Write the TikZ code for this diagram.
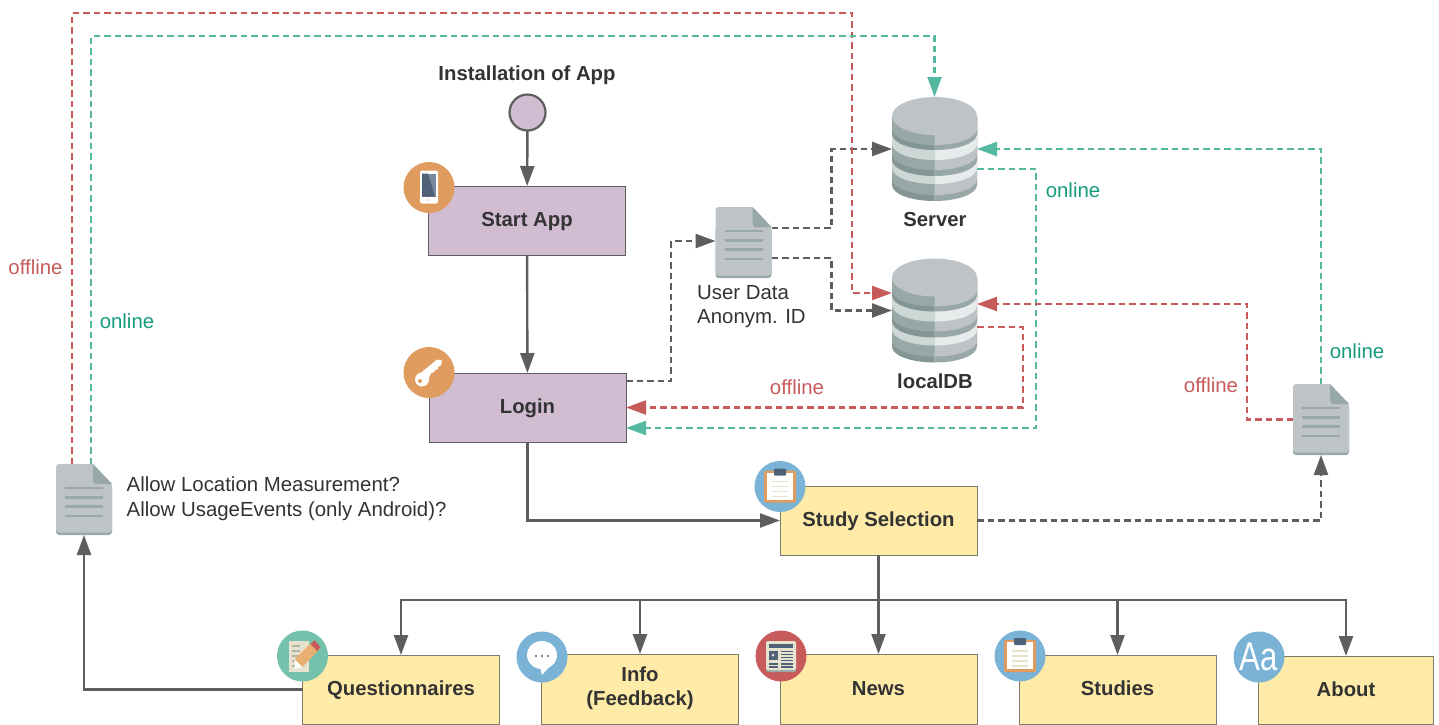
\documentclass[tikz,border=0pt]{standalone}
\usepackage{fontspec}
\setmainfont{Liberation Sans}
\usetikzlibrary{arrows.meta}
\definecolor{line-gray}{HTML}{5E5E5E}
\definecolor{text-gray}{HTML}{333333}
\definecolor{off-red}{HTML}{C75B5B}
\definecolor{on-teal}{HTML}{55B8A0}
\definecolor{on-text}{HTML}{159B7C}
\definecolor{box-purple}{HTML}{D1BCD2}
\definecolor{box-yellow}{HTML}{FFEBA8}
\definecolor{db-light}{HTML}{BDC3C7}
\definecolor{db-mid}{HTML}{98A8A6}
\definecolor{db-dark}{HTML}{849694}
\definecolor{db-white}{HTML}{E6EBEB}
\definecolor{db-pale}{HTML}{CDD7D6}
\definecolor{badge-orange}{HTML}{E09B5E}
\definecolor{badge-blue}{HTML}{7AB3D6}
\definecolor{badge-teal}{HTML}{74C2AB}
\definecolor{icon-slate}{HTML}{4F6079}
\definecolor{icon-paper}{HTML}{E6E2CE}
\tikzset{
    x=1pt, y=-1pt,
    flow-box/.style = {draw=line-gray, thick, rectangle, inner sep=0pt, outer sep=0pt, minimum width=197pt, minimum height=69pt, align=center, text=text-gray, text height=12pt, text depth=0pt, font=\fontsize{20.3}{24.5}\selectfont\bfseries},
    purple-box/.style = {flow-box, fill=box-purple},
    yellow-box/.style = {flow-box, fill=box-yellow, draw=line-gray!80!box-yellow},
    start-dot/.style = {draw=line-gray, fill=box-purple, line width=2.2pt, circle, inner sep=0pt, outer sep=0pt, minimum size=36pt},
    db-box/.style = {rectangle, inner sep=0pt, outer sep=0pt, minimum width=85pt, minimum height=104pt},
    doc-box/.style = {rectangle, inner sep=0pt, outer sep=0pt, minimum width=56pt, minimum height=71pt},
    badge/.style = {circle, inner sep=0pt, outer sep=0pt, minimum size=51pt},
    caption/.style = {inner sep=0pt, text=text-gray, font=\fontsize{20.4}{24.7}\selectfont, align=left},
    caption-bold/.style = {caption, font=\fontsize{20.3}{24.5}\selectfont\bfseries},
    off-label/.style = {caption, text=off-red},
    on-label/.style = {caption, text=on-text},
    solid-arrow/.style = {draw=line-gray, line width=2.4pt, -{Triangle[length=20pt,width=14pt]}},
    dash-arrow/.style = {line width=2.4pt, dash pattern=on 6.5pt off 4pt, -{Triangle[length=20pt,width=14pt,color=#1]}, draw=#1},
    doc-icon/.pic = {
        \begin{scope}[shift={(-28,-35.5)}]
        \fill[db-mid, rounded corners=3pt] (0,20) -- (0,71) -- (56,71) -- (56,20) -- cycle;
        \fill[db-light, rounded corners=3pt] (0,0) -- (0,68.5) -- (56,68.5) -- (56,20) [sharp corners] -- (37,0) [rounded corners=3pt] -- cycle;
        \fill[db-mid] (37,0) -- (56,20) -- (39,20) -- (37,17) -- cycle;
        \foreach \liney in {24,33.3,42.7,52}
            \draw[db-mid, line width=2.8pt] (9,\liney) -- (47,\liney);
        \end{scope}
    },
    db-icon/.pic = {
        \begin{scope}[shift={(0,-52)}]
        \foreach \edge/\leftfill/\rightfill in {88/db-dark/db-mid, 82/db-mid/db-light, 71/db-pale/db-white, 63/db-dark/db-mid, 57/db-mid/db-light, 47/db-pale/db-white, 37/db-dark/db-mid, 32/db-mid/db-light} {
            \fill[\leftfill] (-42.5,20) -- (-42.5,\edge) .. controls (-42.5,\edge+9) and (-23.5,\edge+16) .. (0,\edge+16) -- (0,20) -- cycle;
            \fill[\rightfill] (42.5,20) -- (42.5,\edge) .. controls (42.5,\edge+9) and (23.5,\edge+16) .. (0,\edge+16) -- (0,20) -- cycle;
        }
        \fill[db-light] (0,19) ellipse (42.5pt and 19pt);
        \end{scope}
    },
    phone-icon/.pic = {
        \fill[white, rounded corners=2pt] (-9,-17) rectangle (9,16);
        \fill[icon-slate!75!white] (-7,-14) rectangle (7,9);
        \fill[icon-slate] (-7,-14) -- (-1,-14) -- (6,9) -- (-7,9) -- cycle;
        \fill[icon-paper] (0,12.5) circle (1.3pt);
    },
    key-icon/.pic = {
        \fill[white] (-7,7) circle (7pt);
        \fill[white] (-9,1) -- (8,-13) -- (13,-12) -- (12,-7) -- (9.5,-6) -- (8.5,-3) -- (6,-2.5) -- (5,0) -- (2.5,0) -- (-1,7) -- cycle;
        \fill[badge-orange] (-9,8.5) circle (2pt);
    },
    clipboard-icon/.pic = {
        \fill[badge-orange, rounded corners=2pt] (-16,-16) rectangle (16,16);
        \fill[white] (-13,-14) rectangle (13,13);
        \foreach \liney in {-5,0,5,10}
            \draw[icon-paper, line width=1.6pt] (-8,\liney) -- (8,\liney);
        \fill[icon-slate, rounded corners=1pt] (-6,-18) rectangle (6,-11);
    },
    pencil-icon/.pic = {
        \fill[icon-paper] (-14,-15) rectangle (6,16);
        \foreach \liney in {-10,-5,0,5,10}
            \draw[line-gray!35!icon-paper, line width=1.2pt] (-11,\liney) -- (-3,\liney);
        \fill[badge-orange!75!box-yellow] (-8,3) -- (11,-15) -- (18,-8) -- (0,11) -- cycle;
        \fill[off-red] (8,-12) -- (12,-16) -- (18,-9) -- (15,-5) -- cycle;
        \fill[white] (-8,3) -- (0,11) -- (-8,13) -- cycle;
    },
    speech-icon/.pic = {
        \fill[white] (0,-2) ellipse (15pt and 14pt);
        \fill[white] (-2,10) -- (0,18) -- (9,8) -- cycle;
        \foreach \dotx in {-6,0,6}
            \fill[icon-slate] (\dotx,-1) circle (1.2pt);
    },
    news-icon/.pic = {
        \fill[db-mid, rounded corners=2pt] (-15,-15) rectangle (15,16);
        \fill[icon-paper, rounded corners=2pt] (-15,-15) rectangle (15,14);
        \fill[icon-slate] (-12,-12.5) rectangle (12,-8.5);
        \fill[icon-slate] (-12,-5) rectangle (-3,4);
        \fill[icon-paper] (-8,-1) circle (1.5pt);
        \foreach \liney in {-4.5,-1.5,1.5,4.5}
            \draw[icon-slate, line width=1.4pt] (0,\liney) -- (12,\liney);
        \foreach \liney in {8,11}
            \draw[icon-slate, line width=1.4pt] (-12,\liney) -- (-3,\liney) (0,\liney) -- (12,\liney);
    },
}
\begin{document}
\begin{tikzpicture}
\useasboundingbox (0,0) rectangle (1439,724);
% boxes
\node [start-dot] (install) at (527.5,112.5) {};
\node [caption-bold] (installtitle) at (527,75) {Installation of App};
\node [purple-box] (startapp) at (527,220.5) {Start App};
\node [purple-box] (login) at (527.5,407.5) {Login};
\node [yellow-box] (study) at (878.5,520.5) {Study Selection};
\node [yellow-box] (questionnaires) at (401,689.5) {Questionnaires};
\node [yellow-box, minimum height=70pt, text height=33.5pt] (info) at (640,689) {Info\\(Feedback)};
\node [yellow-box, minimum height=70pt] (news) at (878.5,689) {News};
\node [yellow-box] (studies) at (1117.5,689.5) {Studies};
\node [yellow-box, minimum width=175pt, minimum height=68pt] (about) at (1346,690) {About};
% databases and documents
\node [db-box] (server) at (934.5,149) {};
\pic at (server) {db-icon};
\node [caption-bold] (servertitle) at (935,219.5) {Server};
\node [db-box] (localdb) at (934.5,310.5) {};
\pic at (localdb) {db-icon};
\node [caption-bold] (localdbtitle) at (935,381) {localDB};
\node [doc-box] (userdoc) at (743.5,242.5) {};
\pic at (userdoc) {doc-icon};
\node [caption, anchor=north west] (userdoctext) at (697,285) {User Data\\Anonym. ID};
\node [doc-box] (leftdoc) at (84,499.5) {};
\pic at (leftdoc) {doc-icon};
\node [caption, anchor=west] (leftdoctext) at (126.5,499) {Allow Location Measurement?\\Allow UsageEvents (only Android)?};
\node [doc-box] (rightdoc) at (1321,419.5) {};
\pic at (rightdoc) {doc-icon};
% solid connectors
\draw [solid-arrow] (install) -- (startapp);
\draw [solid-arrow] (startapp) -- (login);
\draw [solid-arrow] (login.south) |- (study.west);
\draw [solid-arrow] (questionnaires.west) -| (leftdoc.south);
\coordinate (busjoint) at (878.5,600);
\draw [line-gray, line width=2.4pt] (study.south) -- (busjoint);
\foreach \target in {questionnaires,info,news,studies,about}
    \draw [solid-arrow] (busjoint) -| (\target.north);
% dashed connectors
\draw [dash-arrow=line-gray] ([yshift=26.5pt]login.east) -- ++(45,0) |- ([yshift=1.5pt]userdoc.west);
\draw [dash-arrow=line-gray] ([yshift=14.5pt]userdoc.east) -- ++(60,0) |- (server.west);
\draw [dash-arrow=line-gray] ([yshift=-15.5pt]userdoc.east) -- ++(60,0) |- (localdb.west);
\draw [dash-arrow=line-gray] (study.east) -| (rightdoc.south);
\draw [dash-arrow=off-red] ([xshift=-12pt]leftdoc.north) -- ++(0,-451) -- ++(780,0) |- ([yshift=17.5pt]localdb.west);
\draw [dash-arrow=on-teal] ([xshift=7pt]leftdoc.north) -- ++(0,-428) -| (server.north);
\draw [dash-arrow=on-teal] ([yshift=-20pt]server.east) -- ++(59,0) |- ([yshift=-20.5pt]login.east);
\draw [dash-arrow=off-red] ([yshift=-16.5pt]localdb.east) -- ++(46,0) |- (login.east);
\draw [dash-arrow=on-teal] (rightdoc.north) |- (server.east);
\draw [dash-arrow=off-red] (rightdoc.west) -- ++(-46,0) |- ([yshift=6.5pt]localdb.east);
% badges
\node [badge, fill=badge-orange] (startbadge) at (429,187.5) {};
\pic at (startbadge) {phone-icon};
\node [badge, fill=badge-orange] (loginbadge) at (429,372.5) {};
\pic at (loginbadge) {key-icon};
\node [badge, fill=badge-blue] (studybadge) at (780,486.5) {};
\pic at (studybadge) {clipboard-icon};
\node [badge, fill=badge-teal] (questionnairesbadge) at (302.5,656) {};
\pic at (questionnairesbadge) {pencil-icon};
\node [badge, fill=badge-blue] (infobadge) at (542,657) {};
\pic at (infobadge) {speech-icon};
\node [badge, fill=off-red] (newsbadge) at (781,656) {};
\pic at (newsbadge) {news-icon};
\node [badge, fill=badge-blue] (studiesbadge) at (1020,656) {};
\pic at (studiesbadge) {clipboard-icon};
\node [badge, fill=badge-blue] (aboutbadge) at (1259,657) {};
\node [text=white, inner sep=0pt, font=\fontsize{40}{40}\selectfont, transform shape, xscale=.78] (abouticon) at (aboutbadge) {Aa};
% labels
\node [off-label] (leftoffline) at (35.5,267) {offline};
\node [on-label] (leftonline) at (127,321) {online};
\node [on-label] (serveronline) at (1073,190) {online};
\node [off-label] (loginoffline) at (797,387) {offline};
\node [off-label] (rightoffline) at (1211,385) {offline};
\node [on-label] (rightonline) at (1357,351) {online};
\end{tikzpicture}
\end{document}
